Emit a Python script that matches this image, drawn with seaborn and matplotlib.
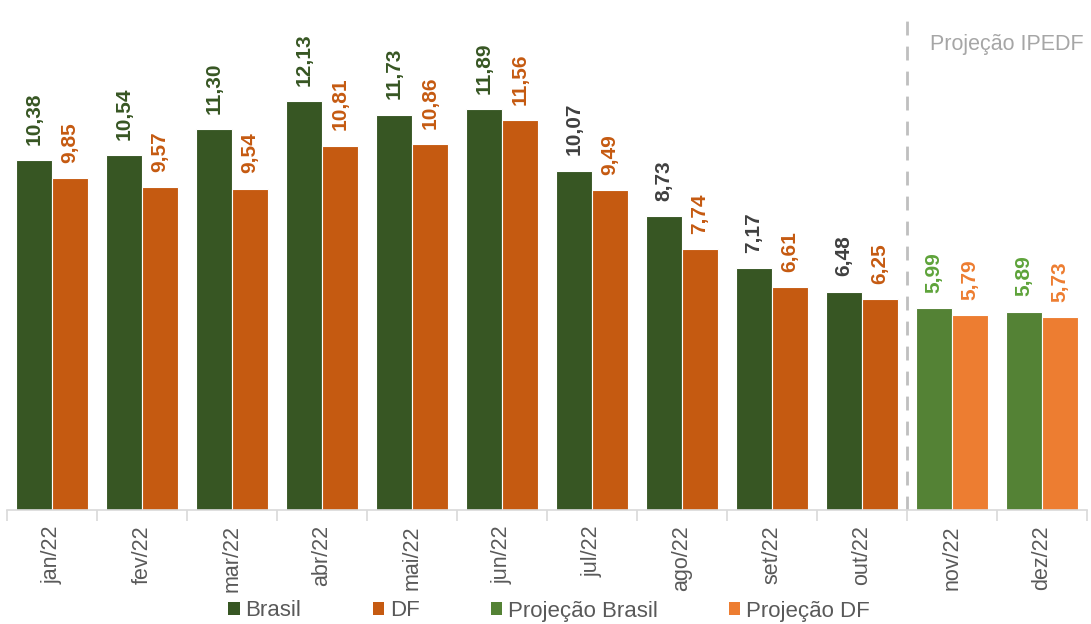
import matplotlib
matplotlib.use("Agg")
import matplotlib.pyplot as plt
from matplotlib.patches import Patch
from matplotlib.ticker import FixedLocator
import seaborn as sns
import pandas as pd

# Monthly values (%), 2022
meses = ["jan/22", "fev/22", "mar/22", "abr/22", "mai/22", "jun/22",
         "jul/22", "ago/22", "set/22", "out/22", "nov/22", "dez/22"]
brasil = [10.38, 10.54, 11.30, 12.13, 11.73, 11.89, 10.07, 8.73, 7.17, 6.48, 5.99, 5.89]
df_vals = [9.85, 9.57, 9.54, 10.81, 10.86, 11.56, 9.49, 7.74, 6.61, 6.25, 5.79, 5.73]
projecao = [False] * 10 + [True] * 2
series = ["Brasil", "DF"]

long = pd.DataFrame({
    "mes": meses * 2,
    "valor": brasil + df_vals,
    "serie": ["Brasil"] * len(meses) + ["DF"] * len(meses),
})

C_BR, C_DF = "#375623", "#C55A11"
C_PBR, C_PDF = "#548235", "#ED7D31"
GRAY = "#595959"

sns.set_theme(style="white")
plt.rcParams["font.family"] = ["Liberation Sans", "DejaVu Sans"]

fig = plt.figure(figsize=(10.91, 6.24), dpi=100)
ax = fig.add_axes([7 / 1091, 1 - 510 / 624, 1080 / 1091, (510 - 4.5) / 624])

sns.barplot(data=long, x="mes", y="valor", hue="serie", order=meses,
            hue_order=series, palette=[C_BR, C_DF], saturation=1,
            width=0.8, gap=0, edgecolor="white", linewidth=0.8,
            legend=False, ax=ax)

# recolour projected months
for i, proj in enumerate(projecao):
    if proj:
        ax.containers[0].patches[i].set_facecolor(C_PBR)
        ax.containers[1].patches[i].set_facecolor(C_PDF)

def fmt(v):
    return f"{v:.2f}".replace(".", ",")

br_colors = [C_BR] * 6 + ["#404040"] * 4 + ["#5EA33A"] * 2
df_colors = [C_DF] * 10 + [C_PDF] * 2
for cont, vals, cols in [(ax.containers[0], brasil, br_colors),
                         (ax.containers[1], df_vals, df_colors)]:
    texts = ax.bar_label(cont, labels=[fmt(v) for v in vals], rotation=90,
                         padding=11, fontsize=15, fontweight="bold")
    for t, c in zip(texts, cols):
        t.set_color(c)

ax.set_ylim(0, 15)
ax.set_xlim(-0.5, len(meses) - 0.5)
ax.set_yticks([])
ax.set_xlabel("")
ax.set_ylabel("")
for s in ["top", "right", "left"]:
    ax.spines[s].set_visible(False)
ax.spines["bottom"].set_color("#D9D9D9")
ax.spines["bottom"].set_linewidth(1.2)

ax.set_xticks(range(len(meses)))
ax.set_xticklabels(meses, rotation=90, fontsize=15.5, color=GRAY)
ax.tick_params(axis="x", which="major", length=0, pad=11)
ax.xaxis.set_minor_locator(FixedLocator([i - 0.5 for i in range(len(meses) + 1)]))
ax.tick_params(axis="x", which="minor", length=8, color="#D9D9D9", width=1.2,
               bottom=True)

# separator between realized and projected months
ax.axvline(9.5, ymin=0, ymax=0.985, color="#BFBFBF", linestyle=(0, (5, 4)),
           linewidth=2)
ax.text(9.76, 13.8, "Projeção IPEDF", fontsize=15.5, color="#A6A6A6",
        ha="left", va="center")

handles = [Patch(facecolor=c, edgecolor="none") for c in [C_BR, C_DF, C_PBR, C_PDF]]
labels = ["Brasil", "DF", "Projeção Brasil", "Projeção DF"]
fig.legend(handles, labels, loc="center", bbox_to_anchor=(549 / 1091, 1 - 611 / 624),
           ncol=4, frameon=False, fontsize=16, labelcolor=GRAY,
           handlelength=0.5, handleheight=0.5, handletextpad=0.27,
           columnspacing=3.2, borderpad=0, borderaxespad=0)

fig.savefig("out.png", dpi=100)
